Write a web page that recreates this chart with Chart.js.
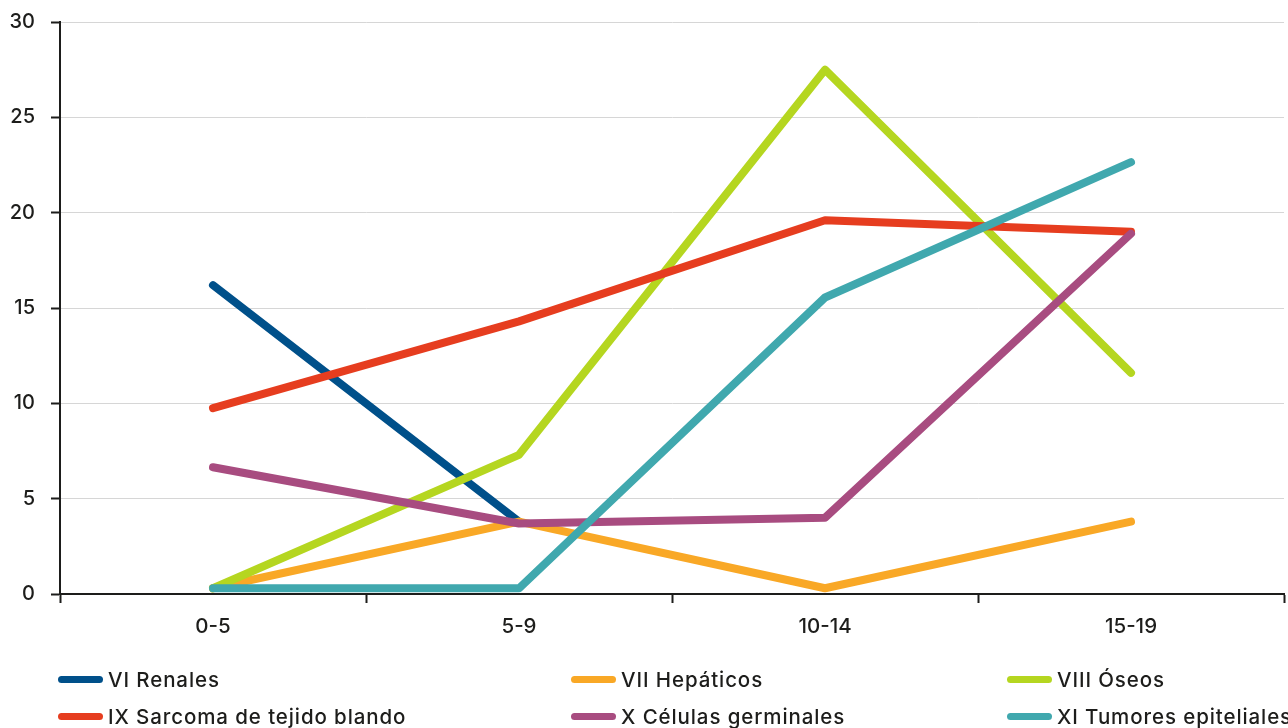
<!DOCTYPE html>
<html>
<head>
<meta charset="utf-8">
<script src="https://cdn.jsdelivr.net/npm/chart.js@4/dist/chart.umd.min.js"></script>
<style>
  html, body { margin: 0; padding: 0; background: #fff; }
  #wrap { position: relative; width: 1288px; height: 728px; }
  #c { position: absolute; left: 0; top: 0; }
  .leg { position: absolute; display: flex; align-items: center; font-family: Inter, "Liberation Sans", Arial, sans-serif; font-weight: 500; font-size: 20.5px; letter-spacing: 0.9px; color: #1d1d1b; white-space: nowrap; }
  .leg i { display: inline-block; width: 45px; height: 7px; border-radius: 4px; margin-right: 5px; }
</style>
</head>
<body>
<div id="wrap">
  <canvas id="c" width="1288" height="728"></canvas>
  <div id="legend"></div>
</div>
<script>
// Age groups (years)
const categories = ['0-5', '5-9', '10-14', '15-19'];

// Rate per group, one array per tumour family
const renales       = [16.2, 3.8, null, null];
const hepaticos     = [0.3, 3.8, 0.3, 3.8];
const oseos         = [0.3, 7.3, 27.5, 11.6];
const sarcoma       = [9.75, 14.3, 19.6, 19.0];
const germinales    = [6.65, 3.7, 4.0, 18.9];
const epiteliales   = [0.3, 0.3, 15.55, 22.65];

const seriesNames  = ['VI Renales', 'VII Hepáticos', 'VIII Óseos', 'IX Sarcoma de tejido blando', 'X Células germinales', 'XI Tumores epiteliales'];
const seriesData   = [renales, hepaticos, oseos, sarcoma, germinales, epiteliales];
const seriesColors = ['#00508a', '#f9a826', '#b5d620', '#e63d1f', '#a84c80', '#40a8ae'];

const yTicks = [0, 5, 10, 15, 20, 25, 30];

const FONT = 'Inter, "Liberation Sans", Arial, sans-serif';

const datasets = seriesNames.map((name, i) => ({
  label: name,
  data: seriesData[i],
  borderColor: seriesColors[i],
  backgroundColor: seriesColors[i],
  borderWidth: 8,
  borderCapStyle: 'round',
  borderJoinStyle: 'round',
  pointRadius: 0,
  pointHoverRadius: 0,
  tension: 0,
  fill: false,
  spanGaps: false,
  order: seriesNames.length - i   // later series paint on top
}));

new Chart(document.getElementById('c'), {
  type: 'line',
  data: { labels: categories, datasets },
  options: {
    responsive: false,
    animation: false,
    devicePixelRatio: 1,
    layout: { padding: { top: 22, right: 4, left: 0, bottom: 0 } },
    plugins: { legend: { display: false }, tooltip: { enabled: false } },
    scales: {
      x: {
        offset: true,
        grid: { offset: true, drawOnChartArea: false, drawTicks: true, tickLength: 9, tickColor: '#1d1d1b', tickWidth: 2 },
        border: { display: true, color: '#1d1d1b', width: 2 },
        ticks: { color: '#1d1d1b', font: { family: FONT, size: 20.5, weight: 500 }, padding: 12, maxRotation: 0 },
        afterFit: s => { s.height = 134; s.paddingLeft = 0; s.paddingRight = 0; }
      },
      y: {
        min: 0, max: 30,
        afterBuildTicks: s => { s.ticks = yTicks.map(v => ({ value: v })); },
        grid: { color: '#d6d6d6', lineWidth: 1, drawTicks: true, tickLength: 9, tickColor: '#1d1d1b', tickWidth: 2 },
        border: { display: true, color: '#1d1d1b', width: 2 },
        ticks: { color: '#1d1d1b', font: { family: FONT, size: 20, weight: 500 }, padding: 16 },
        afterFit: s => { s.width = 60; s.paddingTop = 0; s.paddingBottom = 0; }
      }
    }
  }
});

// Legend: three columns, two rows
const legendCols = [58, 571, 1007];
const legendRows = [679, 716];
const legendEl = document.getElementById('legend');
seriesNames.forEach((name, i) => {
  const d = document.createElement('div');
  d.className = 'leg';
  d.style.left = legendCols[i % 3] + 'px';
  d.style.top = (legendRows[Math.floor(i / 3)] - 12) + 'px';
  d.style.height = '24px';
  const sw = document.createElement('i');
  sw.style.background = seriesColors[i];
  d.appendChild(sw);
  d.appendChild(document.createTextNode(name));
  legendEl.appendChild(d);
});
</script>
</body>
</html>
